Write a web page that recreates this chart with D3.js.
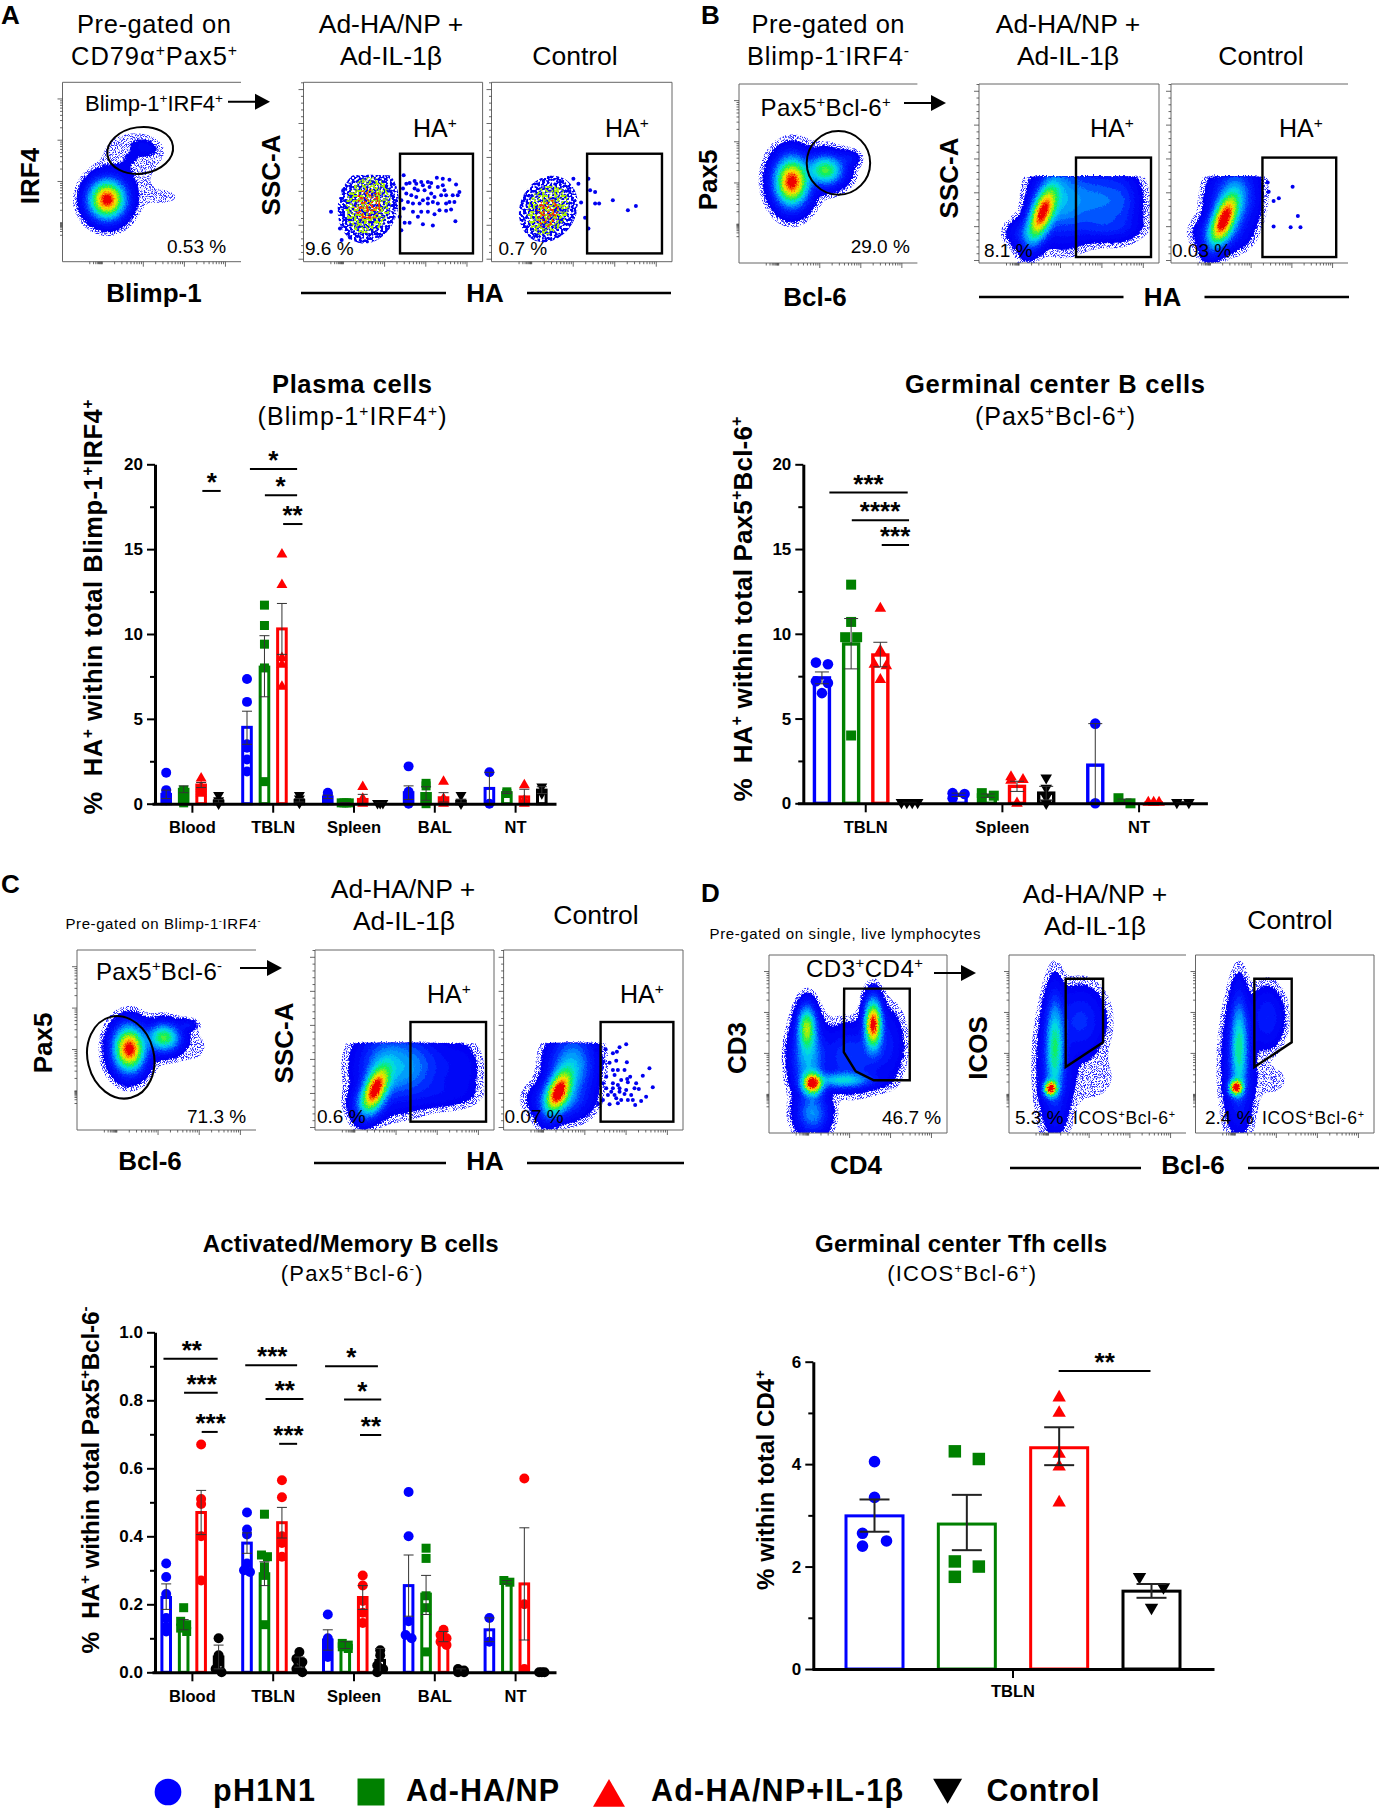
<!DOCTYPE html>
<html>
<head>
<meta charset="utf-8">
<style>
body { margin: 0; background: #fff; font-family: "Liberation Sans", Arial, sans-serif; }
text { fill: #000; }
</style>
</head>
<body>
<script src="https://d3js.org/d3.v7.min.js"></script>
<script>
// ---- bar chart data ----
var seriesNames = ["pH1N1", "Ad-HA/NP", "Ad-HA/NP+IL-1β", "Control"];
var seriesColors = ["#0000ff", "#008000", "#ff0000", "#000000"];

var plasmaGroups = ["Blood", "TBLN", "Spleen", "BAL", "NT"];
var plasmaMeans = [[.55, .85, 1.1, .15], [4.5, 8.05, 10.3, .2], [.4, .05, .25, .02], [.65, .6, .35, .15], [.9, .65, .4, .8]];
var plasmaLow = [[.3, .65, .95, .05], [3.5, 6.3, 8.8, .1], [.3, .03, 0, .01], [.25, .2, .1, .05], [0, .6, 0, .6]];
var plasmaHigh = [[.8, 1.05, 1.25, .25], [5.45, 9.9, 11.8, .3], [.5, .07, .55, .03], [1.05, 1, .65, .25], [1.85, .7, .85, 1]];
var plasmaPoints = [
  [[1.83, .8, .6, .4, .3, .2], [.8, .6, .4, .2, .05], [1.5, 1, .9, .7, .6], [.5, .2, .1, .05, 0]],
  [[7.35, 6, 3.5, 3.3, 2.6, 1.9], [11.7, 10.5, 9.4, 8, 1.3], [14.7, 12.9, 8.6, 8.2, 6.9], [.5, .3, .1, .05]],
  [[.65, .55, .3, .2], [.05, .05, .05, .05], [1, .3, .1, 0], [.03, .03, .03]],
  [[2.2, .7, .5, .1, 0], [1.2, 1.05, .4, .2, 0], [1.3, .3, .2, 0], [.5, .1, 0]],
  [[1.85, 0], [.7, .6], [1.1, .2, 0], [1, .6]]
];
var plasmaBrackets = [[.123, .35, 18.43, .239, "*"], [.712, 1.296, 19.72, 1, "*"], [.897, 1.296, 18.17, 1.09, "*"], [1.123, 1.362, 16.48, 1.239, "**"]];

var gcbGroups = ["TBLN", "Spleen", "NT"];
var gcbMeans = [[7.4, 9.4, 8.75, .05], [.5, .45, 1, .6], [2.25, .15, .02, .02]];
var gcbLow = [[7.05, 7.93, 8.05, .05], [.4, .35, .7, .2], [0, .05, 0, 0]];
var gcbHigh = [[7.75, 10.9, 9.5, .05], [.6, .55, 1.3, 1], [4.7, .25, .04, .04]];
var gcbPoints = [
  [[8.3, 8.2, 7.2, 7.1, 6.5], [12.9, 10.7, 9.8, 9.8, 4], [11.5, 9, 8.2, 8.1, 7.3], [.05, .05, .05, .05]],
  [[.6, .55, .3], [.6, .45, .3], [1.55, 1.4, 1.35, 0], [1.5, .9, .35, 0]],
  [[4.7, 0], [.3, 0], [.05, .05, .05], [.05, .05]]
];
var gcbBrackets = [[-.266, .307, 18.33, .02, "***"], [-.102, .317, 16.7, .105, "****"], [.117, .317, 15.24, .215, "***"]];

var memGroups = ["Blood", "TBLN", "Spleen", "BAL", "NT"];
var memMeans = [[.22, .14, .47, .045], [.38, .29, .44, .03], [.095, .08, .22, .035], [.255, .23, .105, .005], [.125, .265, .26, 0]];
var memLow = [[.185, .125, .405, .01], [.35, .255, .395, .015], [.065, .07, .185, 0], [.165, .17, .09, 0], [.09, .26, .095, 0]];
var memHigh = [[.26, .155, .535, .08], [.41, .325, .485, .045], [.125, .09, .255, .07], [.345, .285, .12, .01], [.16, .27, .425, 0]];
var memPoints = [
  [[.32, .28, .23, .16, .135, .12], [.19, .15, .14, .13, .12], [.67, .51, .495, .4, .27], [.1, .05, .03, .01, 0]],
  [[.47, .42, .405, .32, .3, .295], [.465, .345, .34, .31, .285, .14], [.565, .515, .4, .38, .34], [.06, .04, .03, .01, 0]],
  [[.17, .1, .08, .06, .045], [.085, .08, .075, .07], [.285, .255, .21, .175, .145], [.065, .05, .02, .01, 0]],
  [[.53, .4, .15, .11, .1], [.365, .335, .225, .19, .06], [.125, .11, .1, .09, .08], [.01, .005, 0, 0]],
  [[.16, .09], [.27, .265], [.57, .2, .01], [0, 0, 0]]
];
var memBrackets = [
  [-.358, .313, .922, -.008, "**"], [-.103, .313, .822, .115, "***"], [.115, .313, .707, .226, "***"],
  [.654, 1.296, .903, .988, "***"], [.905, 1.374, .804, 1.144, "**"], [1.074, 1.296, .672, 1.189, "***"],
  [1.642, 2.296, .9, 1.967, "*"], [1.877, 2.337, .802, 2.103, "*"], [2.074, 2.337, .698, 2.21, "**"]
];

var tfhGroups = ["TBLN"];
var tfhMeans = [[2.99, 2.83, 4.32, 1.52]];
var tfhLow = [[2.68, 2.32, 3.98, 1.39]];
var tfhHigh = [[3.31, 3.4, 4.72, 1.66]];
var tfhPoints = [[[4.05, 3.35, 2.65, 2.5, 2.4], [4.25, 4.1, 2.1, 2, 1.8], [5.3, 5, 4.2, 3.95, 3.25], [1.8, 1.6, 1.2]]];
var tfhBrackets = [[.1136, .342, 5.82, .228, "**"]];

// ---- flow plot data, in instrument channels 0-540 ----
// density blobs: x, y, sdX, sdY, tilt, peak
var irf4Blobs = [[135, 187, 31, 33, 0, 1], [250, 345, 20, 12, -15, .03], [225, 330, 60, 40, 0, .0085], [190, 260, 50, 60, 0, .008], [310, 195, 60, 30, 0, .0045]];
var pcHaBlobs = [[195, 170, 40, 52, -15, 1]];
var pcCtlBlobs = [[170, 160, 40, 48, -25, .75], [160, 125, 20, 25, -25, .4]];
var gcbGateBlobs = [[160, 245, 29, 41, 0, 1], [262, 280, 31, 26, 0, .5], [330, 315, 20, 14, 0, .05], [200, 280, 90, 70, 0, .006]];
var gcbHaBlobs = [[190, 150, 20, 52, -20, .95], [250, 190, 45, 62, 0, .22], [360, 190, 55, 52, 0, .16], [430, 180, 28, 50, 0, .06], [380, 110, 55, 22, 0, .06], [140, 90, 30, 25, 0, .08]];
var gcbCtlBlobs = [[161, 130, 20, 48, -22, .95], [190, 190, 38, 58, -8, .22], [150, 90, 40, 28, 0, .1]];
var memGateBlobs = [[158, 243, 27, 38, 0, 1], [262, 277, 28, 24, 0, .5], [333, 315, 16, 10, 0, .05], [170, 250, 60, 60, 0, .007], [350, 250, 50, 50, 0, .005]];
var memHaBlobs = [[182, 122, 20, 42, -22, .95], [223, 190, 50, 58, 0, .25], [371, 190, 58, 50, 0, .05], [450, 180, 25, 45, 0, .02], [380, 110, 60, 25, 0, .03], [300, 190, 40, 55, 0, .1], [160, 80, 30, 28, 0, .12]];
var memCtlBlobs = [[165, 115, 20, 40, -22, .95], [205, 190, 38, 58, -5, .25], [170, 90, 45, 30, 0, .15]];
var cd4GateBlobs = [[132, 150, 18, 20, 0, 1], [115, 320, 16, 38, 0, .55], [316, 330, 15, 42, 0, 1], [224, 160, 50, 14, 0, .3], [119, 230, 28, 60, 0, .25], [132, 60, 28, 35, 0, .2], [250, 230, 50, 50, 0, .12], [355, 270, 30, 60, 0, .06]];
var tfhHaBlobs = [[127, 135, 12, 14, 0, 1], [140, 260, 16, 85, 0, .38], [219, 340, 40, 55, 0, .09], [245, 170, 60, 55, 0, .0075], [140, 200, 30, 110, 0, .07]];
var tfhCtlBlobs = [[123, 138, 12, 14, 0, 1], [132, 260, 15, 85, 0, .36], [217, 350, 28, 50, 0, .08], [230, 160, 40, 35, 0, .0065], [130, 200, 28, 110, 0, .07]];

// single events that can be read one by one
var pcHaEvents = [[302,260],[320,237],[335,243],[355,240],[375,240],[385,237],[402,253],[420,250],[440,247],[460,232],[470,210],[450,200],[425,215],[415,200],[395,195],[375,190],[360,185],[340,195],[325,200],[310,205],[300,220],[315,180],[330,175],[350,175],[375,175],[390,180],[405,175],[430,175],[455,180],[465,200],[302,160],[330,150],[355,150],[375,150],[395,143],[410,155],[430,153],[445,157],[310,235],[345,215],[365,215],[385,205],[405,225],[420,230],[320,117],[305,117],[345,135],[360,113],[390,109],[458,122],[295,95],[290,135],[295,185],[340,235],[360,230],[380,225],[335,220],[430,200],[440,180],[83,150],[110,100],[115,65],[140,73],[120,215]];
var pcCtlEvents = [[290,250],[295,215],[310,210],[310,175],[322,175],[363,185],[408,155],[432,168],[268,178],[280,132],[290,100],[260,235],[245,250]];
var gcbCtlEvents = [[295,243],[298,215],[313,187],[329,195],[371,230],[387,142],[313,110],[365,108],[395,108]];
var memCtlEvents = [[349,248],[369,257],[341,235],[329,230],[307,242],[279,240],[301,205],[319,202],[339,208],[371,203],[439,185],[329,180],[344,180],[364,180],[381,160],[419,163],[372,153],[334,165],[354,150],[309,160],[329,140],[299,140],[344,135],[374,143],[399,140],[394,125],[449,128],[407,123],[309,125],[329,125],[349,125],[369,120],[384,105],[314,105],[339,95],[354,90],[374,90],[429,100],[414,87],[389,90],[396,75],[319,77],[299,90],[344,80],[284,78],[349,115],[324,115],[364,108],[334,105]];

// gates
var irf4Gate = [235, 335, 100, 70, 8];
var gcbGate = [301, 302, 96, 96, 0];
var memGate = [132, 218, 100, 125, 14];
var cd4Gate = [[228,438],[427,438],[427,160],[318,160],[263,187],[227,245]];
var tfhHaGate = [[173,468],[287,468],[287,275],[173,200]];
var tfhCtlGate = [[178,468],[291,468],[291,275],[178,200]];

var width = 1379, height = 1808;
var svg = d3.select("body").append("svg").attr("width", width).attr("height", height);

var defs = svg.append("defs");
var rf = defs.append("filter").attr("id", "rough").attr("x", "-10%").attr("y", "-10%").attr("width", "120%").attr("height", "120%")
    .attr("color-interpolation-filters", "sRGB");
rf.append("feTurbulence").attr("type", "fractalNoise").attr("baseFrequency", .7).attr("numOctaves", 2).attr("seed", 4).attr("result", "n");
rf.append("feDisplacementMap").attr("in", "SourceGraphic").attr("in2", "n").attr("scale", 5)
    .attr("xChannelSelector", "R").attr("yChannelSelector", "G");

function speckleFilter(id, freq, seed, offset) {
  var sp = defs.append("filter").attr("id", id).attr("x", "0").attr("y", "0").attr("width", "100%").attr("height", "100%")
      .attr("color-interpolation-filters", "sRGB");
  sp.append("feTurbulence").attr("type", "fractalNoise").attr("baseFrequency", freq).attr("numOctaves", 1).attr("seed", seed).attr("result", "n");
  sp.append("feColorMatrix").attr("in", "n").attr("type", "matrix").attr("values", "0 0 0 0 0 0 0 0 0 0 0 0 0 0 0 9 0 0 0 " + offset).attr("result", "m");
  sp.append("feComposite").attr("in", "SourceGraphic").attr("in2", "m").attr("operator", "in");
}
speckleFilter("speckle", 1.1, 9, -4.4);
speckleFilter("dotsBlue", .42, 3, -3.7);
speckleFilter("dotsLime", .42, 11, -4.2);
speckleFilter("dotsRed", .42, 23, -4.6);

// text with ^x superscripts
function label(str, x, y, o) {
  o = o || {};
  var size = o.size || 25;
  var t = svg.append("text")
      .attr("transform", "translate(" + x + "," + y + ")" + (o.rotate ? " rotate(-90)" : ""))
      .attr("text-anchor", o.anchor || "start")
      .attr("font-size", size)
      .attr("font-weight", o.bold ? "bold" : "normal");
  if (o.len) t.attr("textLength", o.len).attr("lengthAdjust", "spacing");
  var parts = str.split(/\^(.)/);
  var raised = false;
  parts.forEach(function(p, i) {
    if (p === "") return;
    var sup = i % 2 == 1;
    var ts = t.append("tspan").text(p);
    if (sup) {
      ts.attr("font-size", size * .62).attr("dy", -size * .36);
      raised = true;
    } else if (raised) {
      ts.attr("dy", size * .36);
      raised = false;
    }
  });
  return t;
}

var densityColor = d3.scaleLinear()
    .domain([.012, .07, .16, .28, .42, .58, .7, .82, .92])
    .range(["#0000f5", "#0020ff", "#0080ff", "#00d8f0", "#10f060", "#b0f000", "#ffe000", "#ff7000", "#f00000"]);
var denseLevels = [.012, .025, .05, .08, .12, .16, .2, .25, .3, .36, .42, .48, .55, .62, .68, .74, .8, .86, .92];
var sparseLevels = [.08, .25, .6];
var sparseColors = ["#0000f0", "#a8f000", "#f83000"];
var sparseFilters = ["url(#dotsBlue)", "url(#dotsLime)", "url(#dotsRed)"];

var paneCount = 0;
function flowPane(box, o) {
  var x0 = box[0], y0 = box[1], x1 = box[2], y1 = box[3];
  var sx = d3.scaleLinear().domain([0, 540]).range([x0, x1]);
  var sy = d3.scaleLinear().domain([0, 540]).range([y1, y0]);
  var id = "pane" + (paneCount++);
  defs.append("clipPath").attr("id", id).append("rect").attr("x", x0).attr("y", y0).attr("width", x1 - x0).attr("height", y1 - y0);
  var g = svg.append("g").attr("clip-path", "url(#" + id + ")");

  // density field from the blobs
  var n = 180, cell = 3, values = new Float64Array(n * n);
  for (var j = 0; j < n; j++) for (var i = 0; i < n; i++) {
    var cx = (i + .5) * cell, cy = (j + .5) * cell, v = 0;
    if (o.cap && cy > o.cap) { values[j * n + i] = 0; continue; }
    o.blobs.forEach(function(b) {
      var a = b[4] * Math.PI / 180, dx = cx - b[0], dy = cy - b[1];
      var u = dx * Math.cos(a) + dy * Math.sin(a), w = -dx * Math.sin(a) + dy * Math.cos(a);
      v += b[5] * Math.exp(-.5 * (u * u / (b[2] * b[2]) + w * w / (b[3] * b[3])));
    });
    values[j * n + i] = v;
  }
  var path = d3.geoPath(d3.geoTransform({ point: function(a, b) { this.stream.point(sx(a * cell), sy(b * cell)); } }));
  var contours = d3.contours().size([n, n]);
  if (o.sparse) {
    // few events: each colour band shows as loose dots
    contours.thresholds(sparseLevels)(values).forEach(function(c, k) {
      g.append("path").attr("d", path(c)).attr("fill", sparseColors[k]).attr("filter", sparseFilters[k]);
    });
  } else {
    g.append("path").attr("d", path(contours.thresholds([.004])(values)[0])).attr("fill", "#2a2aff").attr("filter", "url(#speckle)");
    var core = g.append("g").attr("filter", "url(#rough)");
    core.selectAll("path").data(contours.thresholds(denseLevels)(values)).join("path")
        .attr("d", path)
        .attr("fill", function(d) { return densityColor(d.value); });
  }
  if (o.events) {
    g.selectAll("circle.ev").data(o.events).join("circle").attr("class", "ev")
        .attr("cx", function(d) { return sx(d[0]); }).attr("cy", function(d) { return sy(d[1]); })
        .attr("r", 2).attr("fill", "#0000f0");
  }

  // frame
  var frame = svg.append("g").attr("stroke", "#666").attr("stroke-width", 1).attr("fill", "none");
  frame.append("line").attr("x1", x0).attr("x2", x1).attr("y1", y0).attr("y2", y0);
  frame.append("line").attr("x1", x0).attr("x2", x0).attr("y1", y0).attr("y2", y1);
  frame.append("line").attr("x1", x0).attr("x2", x1).attr("y1", y1).attr("y2", y1);
  if (!o.noRight) frame.append("line").attr("x1", x1).attr("x2", x1).attr("y1", y0).attr("y2", y1);

  // axes: log on x, log or linear on y
  var logTicks = [];
  [10, 100, 1000, 10000].forEach(function(d) { d3.range(1, 10).forEach(function(m) { logTicks.push(d * m); }); });
  var logMajor = [1000, 10000, 100000];
  var logX = d3.scaleLog().domain([10, 100, 1e3, 1e4, 1e5, 2.6e5]).range([.15, .22, .45, .68, .91, 1].map(function(f) { return x0 + f * (x1 - x0); }));
  drawFlowAxis(d3.axisBottom(logX), "translate(0," + y1 + ")", logTicks, logMajor);
  if (o.linearY) {
    var linY = d3.scaleLinear().domain([0, 260]).range([y1 - 3, y0]);
    drawFlowAxis(d3.axisLeft(linY), "translate(" + x0 + ",0)", d3.range(0, 261, 10), d3.range(0, 261, 50));
  } else {
    var logY = d3.scaleLog().domain([10, 100, 1e3, 1e4, 1e5, 2.6e5]).range([.15, .22, .45, .68, .91, 1].map(function(f) { return y1 - f * (y1 - y0); }));
    drawFlowAxis(d3.axisLeft(logY), "translate(" + x0 + ",0)", logTicks, logMajor);
  }

  // gates
  var gate = svg.append("g").attr("fill", "none").attr("stroke", "#000");
  if (o.rect) {
    gate.append("rect").attr("x", sx(o.rect[0])).attr("y", sy(o.rect[3]))
        .attr("width", sx(o.rect[1]) - sx(o.rect[0])).attr("height", sy(o.rect[2]) - sy(o.rect[3])).attr("stroke-width", 2.4);
  }
  if (o.ellipse) {
    var e = o.ellipse;
    gate.append("ellipse").attr("cx", sx(e[0])).attr("cy", sy(e[1]))
        .attr("rx", sx(e[2]) - sx(0)).attr("ry", sy(0) - sy(e[3]))
        .attr("transform", "rotate(" + (-e[4]) + " " + sx(e[0]) + " " + sy(e[1]) + ")").attr("stroke-width", 2);
  }
  if (o.poly) {
    gate.append("path").attr("d", d3.line().x(function(d) { return sx(d[0]); }).y(function(d) { return sy(d[1]); }).curve(d3.curveLinearClosed)(o.poly)).attr("stroke-width", 2.4);
  }
}

function drawFlowAxis(axis, tr, all, major) {
  var minor = all.filter(function(v) { return major.indexOf(v) < 0; });
  [[minor, 2.5], [major, 5]].forEach(function(s) {
    var a = svg.append("g").attr("transform", tr).call(axis.tickValues(s[0]).tickSize(s[1]).tickSizeOuter(0).tickFormat(""));
    a.select(".domain").remove();
    a.selectAll("text").remove();
    a.selectAll("line").attr("stroke", "#444").attr("stroke-width", .8);
  });
}

function arrow(x0, x1, y) {
  var g = svg.append("g");
  g.append("line").attr("x1", x0).attr("x2", x1 - 8).attr("y1", y).attr("y2", y).attr("stroke", "#000").attr("stroke-width", 2);
  g.append("path").attr("d", "M" + x1 + "," + y + "L" + (x1 - 15) + "," + (y - 8) + "L" + (x1 - 15) + "," + (y + 8) + "Z").attr("fill", "#000");
}
function haBar(x0, x1, x2, x3, y) {
  svg.append("line").attr("x1", x0).attr("x2", x1).attr("y1", y).attr("y2", y).attr("stroke", "#000").attr("stroke-width", 2.4);
  svg.append("line").attr("x1", x2).attr("x2", x3).attr("y1", y).attr("y2", y).attr("stroke", "#000").attr("stroke-width", 2.4);
}

var headSize = 26.5;

// ---- panel A ----
label("A", 1, 24, { size: 26, bold: true });
label("Pre-gated on", 154, 33, { anchor: "middle", size: 25.5, len: 154 });
label("CD79α^+Pax5^+", 154, 65, { anchor: "middle", size: 25.5, len: 166 });
label("Ad-HA/NP +", 391, 33, { anchor: "middle", size: headSize });
label("Ad-IL-1β", 391, 65, { anchor: "middle", size: headSize });
label("Control", 575, 65, { anchor: "middle", size: headSize });
flowPane([62.5, 82.3, 241, 261.7], { blobs: irf4Blobs, ellipse: irf4Gate, noRight: true });
flowPane([303.5, 82.3, 482.6, 261.7], { blobs: pcHaBlobs, sparse: true, cap: 260, linearY: true, events: pcHaEvents, rect: [291, 511, 25, 325] });
flowPane([491.5, 82.3, 672, 261.7], { blobs: pcCtlBlobs, sparse: true, cap: 260, linearY: true, events: pcCtlEvents, rect: [286, 510, 25, 325] });
label("Blimp-1^+IRF4^+", 85, 111, { size: 22, len: 138 });
arrow(228, 270, 101.7);
label("0.53 %", 167, 252.7, { size: 19 });
label("HA^+", 413, 137, { size: 25 });
label("HA^+", 605, 137, { size: 25 });
label("9.6 %", 305, 255, { size: 19 });
label("0.7 %", 498.6, 255, { size: 19 });
label("Blimp-1", 154, 302, { anchor: "middle", bold: true, size: 26 });
label("IRF4", 39, 176, { anchor: "middle", bold: true, size: 26, rotate: true });
label("SSC-A", 280, 175, { anchor: "middle", bold: true, size: 26, rotate: true });
label("HA", 485, 302, { anchor: "middle", bold: true, size: 26 });
haBar(301, 446, 527, 671, 293);

// ---- panel B ----
label("B", 701, 24, { size: 26, bold: true });
label("Pre-gated on", 828, 33, { anchor: "middle", size: 25.5, len: 153 });
label("Blimp-1^-IRF4^-", 828, 65, { anchor: "middle", size: 25.5, len: 162 });
label("Ad-HA/NP +", 1068, 33, { anchor: "middle", size: headSize });
label("Ad-IL-1β", 1068, 65, { anchor: "middle", size: headSize });
label("Control", 1261, 65, { anchor: "middle", size: headSize });
flowPane([739, 84, 917.4, 263], { blobs: gcbGateBlobs, ellipse: gcbGate, noRight: true });
flowPane([979, 84, 1159, 263], { blobs: gcbHaBlobs, cap: 260, linearY: true, rect: [291, 516, 18, 318] });
flowPane([1171, 84, 1348, 263], { blobs: gcbCtlBlobs, cap: 260, linearY: true, events: gcbCtlEvents, rect: [279, 504, 18, 318], noRight: true });
label("Pax5^+Bcl-6^+", 760.6, 116, { size: 24, len: 130 });
arrow(904, 946, 103);
label("29.0 %", 850.7, 252.7, { size: 19 });
label("HA^+", 1090, 137, { size: 25 });
label("HA^+", 1279, 137, { size: 25 });
label("8.1 %", 984, 257, { size: 19 });
label("0.03 %", 1172, 257, { size: 19 });
label("Bcl-6", 815, 306, { anchor: "middle", bold: true, size: 26 });
label("Pax5", 716.5, 180, { anchor: "middle", bold: true, size: 26, rotate: true });
label("SSC-A", 958, 178, { anchor: "middle", bold: true, size: 26, rotate: true });
label("HA", 1162.5, 306, { anchor: "middle", bold: true, size: 26 });
haBar(979, 1123.5, 1204.5, 1349, 297);

// ---- panel C ----
label("C", 1, 893, { size: 26, bold: true });
label("Pre-gated on Blimp-1^-IRF4^-", 163, 929, { anchor: "middle", size: 15, len: 195 });
label("Ad-HA/NP +", 403, 898, { anchor: "middle", size: headSize });
label("Ad-IL-1β", 404, 930, { anchor: "middle", size: headSize });
label("Control", 596, 924, { anchor: "middle", size: headSize });
flowPane([77, 950, 256, 1130], { blobs: memGateBlobs, ellipse: memGate, noRight: true });
flowPane([315, 950, 494, 1130], { blobs: memHaBlobs, cap: 260, linearY: true, rect: [288, 516, 25, 324] });
flowPane([503.6, 950, 683, 1130], { blobs: memCtlBlobs, cap: 260, linearY: true, events: memCtlEvents, rect: [292, 511, 25, 324] });
label("Pax5^+Bcl-6^-", 96, 980, { size: 24, len: 126 });
arrow(240, 282, 968);
label("71.3 %", 187, 1123, { size: 19 });
label("HA^+", 427, 1003, { size: 25 });
label("HA^+", 620, 1003, { size: 25 });
label("0.6 %", 317, 1123, { size: 19 });
label("0.07 %", 504.5, 1123, { size: 19 });
label("Bcl-6", 150, 1170, { anchor: "middle", bold: true, size: 26 });
label("Pax5", 52, 1043, { anchor: "middle", bold: true, size: 26, rotate: true });
label("SSC-A", 293, 1043, { anchor: "middle", bold: true, size: 26, rotate: true });
label("HA", 485, 1170, { anchor: "middle", bold: true, size: 26 });
haBar(314, 446, 527, 684, 1163);

// ---- panel D ----
label("D", 701, 902, { size: 26, bold: true });
label("Pre-gated on single, live lymphocytes", 845, 939, { anchor: "middle", size: 15, len: 271 });
label("Ad-HA/NP +", 1095, 903, { anchor: "middle", size: headSize });
label("Ad-IL-1β", 1095, 935, { anchor: "middle", size: headSize });
label("Control", 1290, 929, { anchor: "middle", size: headSize });
flowPane([769, 955, 947, 1133], { blobs: cd4GateBlobs, poly: cd4Gate });
flowPane([1009, 955, 1186, 1133], { blobs: tfhHaBlobs, poly: tfhHaGate, noRight: true });
flowPane([1195.5, 955, 1374, 1133], { blobs: tfhCtlBlobs, poly: tfhCtlGate });
label("CD3^+CD4^+", 806, 977, { size: 24, len: 117 });
arrow(934, 976, 973);
label("46.7 %", 882, 1124, { size: 19 });
label("5.3 %", 1015, 1124, { size: 19 });
label("ICOS^+Bcl-6^+", 1073, 1124, { size: 17.5, len: 102 });
label("2.4 %", 1205, 1124, { size: 19 });
label("ICOS^+Bcl-6^+", 1262, 1124, { size: 17.5, len: 102 });
label("CD4", 856, 1174, { anchor: "middle", bold: true, size: 26 });
label("CD3", 745.5, 1048, { anchor: "middle", bold: true, size: 26, rotate: true });
label("ICOS", 987, 1048, { anchor: "middle", bold: true, size: 26, rotate: true });
label("Bcl-6", 1193, 1174, { anchor: "middle", bold: true, size: 26 });
haBar(1010, 1141, 1248, 1379, 1168);

// ---- bar charts ----
function barChart(o) {
  var g = svg.append("g");
  var y = d3.scaleLinear().domain([0, o.yMax]).range([o.y0, o.y1]);
  var x = d3.scaleBand().domain(o.groups).range(o.xRange);
  var inner = d3.scalePoint().domain(seriesNames).range([-o.offset, o.offset]);
  var ux = d3.scaleLinear().domain([0, 1]).range([x(o.groups[0]) + x.bandwidth() / 2, x(o.groups[0]) + x.bandwidth() / 2 + x.step()]);
  var symbols = o.symbols || [d3.symbolCircle, d3.symbolSquare, d3.symbolTriangle, d3.symbolTriangle];
  var sizes = o.sizes;

  o.groups.forEach(function(group, gi) {
    var cx = x(group) + x.bandwidth() / 2;
    seriesNames.forEach(function(name, si) {
      var bx = cx + inner(name);
      var col = seriesColors[si];
      g.append("rect")
          .attr("x", bx - o.barW / 2).attr("width", o.barW)
          .attr("y", y(o.means[gi][si])).attr("height", y(0) - y(o.means[gi][si]))
          .attr("fill", "#fff").attr("stroke", col).attr("stroke-width", o.barStroke);

      // points: close values sit side by side
      var vals = o.points[gi][si].slice().sort(d3.descending);
      var pts = g.append("g");
      var slots = [], run = [];
      vals.forEach(function(v, i) {
        if (i > 0 && vals[i - 1] - v > o.tol) { slots.push(run); run = []; }
        run.push(v);
      });
      slots.push(run);
      var sym = symbols[si];
      var down = si == 3 && sym === d3.symbolTriangle;
      slots.forEach(function(r) {
        var same = r.length > 2 && r[0] == r[r.length - 1];
        r.forEach(function(v, i) {
          var off = r.length == 1 ? 0 : (i % 2 == 0 ? -o.step / 2 : o.step / 2);
          if (same) off = (i - (r.length - 1) / 2) * o.step * .45;
          pts.append("path").attr("d", d3.symbol().type(sym).size(sizes[si])())
              .attr("transform", "translate(" + (bx + off) + "," + y(v) + ")" + (down ? " rotate(180)" : ""))
              .attr("fill", col);
        });
      });
    });
  });

  // error bars on top of the points
  o.groups.forEach(function(group, gi) {
    var cx = x(group) + x.bandwidth() / 2;
    seriesNames.forEach(function(name, si) {
      var bx = cx + inner(name), lo = y(o.low[gi][si]), hi = y(o.high[gi][si]);
      var er = g.append("g").attr("stroke", o.errColor).attr("stroke-width", o.errW).attr("fill", "none");
      er.append("line").attr("x1", bx).attr("x2", bx).attr("y1", lo).attr("y2", hi);
      er.append("line").attr("x1", bx - o.cap).attr("x2", bx + o.cap).attr("y1", hi).attr("y2", hi);
      er.append("line").attr("x1", bx - o.cap).attr("x2", bx + o.cap).attr("y1", lo).attr("y2", lo);
    });
  });

  // axes
  var yg = svg.append("g").attr("transform", "translate(" + o.xAxis + ",0)")
      .call(d3.axisLeft(y).tickValues(o.major).tickSize(o.tick).tickSizeOuter(0).tickPadding(4).tickFormat(o.fmt));
  yg.select(".domain").attr("stroke-width", 3);
  yg.selectAll("line").attr("stroke-width", 2);
  yg.selectAll("text").attr("font-size", 17).attr("font-weight", "bold").attr("font-family", "Liberation Sans, Arial, sans-serif");
  var yMinor = svg.append("g").attr("transform", "translate(" + o.xAxis + ",0)")
      .call(d3.axisLeft(y).tickValues(o.minor).tickSize(5).tickSizeOuter(0).tickFormat(""));
  yMinor.select(".domain").remove();
  yMinor.selectAll("text").remove();
  yMinor.selectAll("line").attr("stroke-width", 2);

  var xg = svg.append("g").attr("transform", "translate(0," + o.y0 + ")")
      .call(d3.axisBottom(x).tickSize(9).tickSizeOuter(0).tickPadding(o.xPad));
  xg.select(".domain").attr("stroke-width", 3);
  xg.selectAll("line").attr("stroke-width", 2);
  xg.selectAll("text").attr("font-size", 16.5).attr("font-weight", "bold").attr("font-family", "Liberation Sans, Arial, sans-serif");

  // significance brackets
  o.brackets.forEach(function(b) {
    g.append("line").attr("x1", ux(b[0])).attr("x2", ux(b[1])).attr("y1", y(b[2])).attr("y2", y(b[2]))
        .attr("stroke", "#000").attr("stroke-width", 2);
    g.append("text").attr("x", ux(b[3])).attr("y", y(b[2])).attr("text-anchor", "middle")
        .attr("font-size", 26).attr("font-weight", "bold").text(b[4]);
  });
}

barChart({
  groups: plasmaGroups, means: plasmaMeans, low: plasmaLow, high: plasmaHigh, points: plasmaPoints, brackets: plasmaBrackets,
  yMax: 20, y0: 803.7, y1: 464.3, xRange: [152, 556], xAxis: 155, offset: 26.2, barW: 8.6, barStroke: 3,
  major: [0, 5, 10, 15, 20], minor: [2.5, 7.5, 12.5, 17.5], tick: 8, fmt: d3.format("d"), xPad: 8.5,
  tol: .02, step: 6, sizes: [78, 81, 52, 52], cap: 5, errColor: "#333", errW: 1, symbols: null
});
label("Plasma cells", 352, 393, { anchor: "middle", bold: true, size: 25.5, len: 160 });
label("(Blimp-1^+IRF4^+)", 352, 425, { anchor: "middle", size: 25, len: 189 });
label("%\u00a0\u00a0HA^+ within total Blimp-1^+IRF4^+", 101.7, 607, { anchor: "middle", bold: true, size: 25.5, rotate: true, len: 415 });

barChart({
  groups: gcbGroups, means: gcbMeans, low: gcbLow, high: gcbHigh, points: gcbPoints, brackets: gcbBrackets,
  yMax: 20, y0: 803.3, y1: 464.3, xRange: [797.4, 1207.4], xAxis: 803.3, offset: 43.8, barW: 15, barStroke: 3.4,
  major: [0, 5, 10, 15, 20], minor: [2.5, 7.5, 12.5, 17.5], tick: 8, fmt: d3.format("d"), xPad: 8.5,
  tol: .31, step: 12, sizes: [88, 100, 58, 58], cap: 7, errColor: "#333", errW: 1, symbols: null
});
label("Germinal center B cells", 1055, 393, { anchor: "middle", bold: true, size: 25.5, len: 300 });
label("(Pax5^+Bcl-6^+)", 1055, 425, { anchor: "middle", size: 25, len: 160 });
label("%\u00a0\u00a0HA^+ within total Pax5^+Bcl-6^+", 751.7, 609, { anchor: "middle", bold: true, size: 26, rotate: true, len: 385 });

barChart({
  groups: memGroups, means: memMeans, low: memLow, high: memHigh, points: memPoints, brackets: memBrackets,
  yMax: 1, y0: 1672.3, y1: 1332.3, xRange: [152, 556], xAxis: 155, offset: 26.2, barW: 8.6, barStroke: 3,
  major: [0, .2, .4, .6, .8, 1], minor: [.1, .3, .5, .7, .9], tick: 8, fmt: d3.format(".1f"), xPad: 8.5,
  tol: .012, step: 6, sizes: [78, 81, 78, 78], cap: 5, errColor: "#333", errW: 1,
  symbols: [d3.symbolCircle, d3.symbolSquare, d3.symbolCircle, d3.symbolCircle]
});
label("Activated/Memory B cells", 350.7, 1252, { anchor: "middle", bold: true, size: 24, len: 296 });
label("(Pax5^+Bcl-6^-)", 351.7, 1281, { anchor: "middle", size: 22, len: 142 });
label("%\u00a0\u00a0HA^+ within total Pax5^+Bcl-6^-", 99, 1480, { anchor: "middle", bold: true, size: 24.4, rotate: true, len: 347 });

barChart({
  groups: tfhGroups, means: tfhMeans, low: tfhLow, high: tfhHigh, points: tfhPoints, brackets: tfhBrackets,
  yMax: 6, y0: 1669, y1: 1361.7, xRange: [812, 1214], xAxis: 813.3, offset: 138.5, barW: 57, barStroke: 3,
  major: [0, 2, 4, 6], minor: [1, 3, 5], tick: 8, fmt: d3.format("d"), xPad: 7,
  tol: .21, step: 24, sizes: [106, 156, 78, 78], cap: 15, errColor: "#222", errW: 2, symbols: null
});
label("Germinal center Tfh cells", 961, 1252, { anchor: "middle", bold: true, size: 24, len: 292 });
label("(ICOS^+Bcl-6^+)", 961.7, 1281, { anchor: "middle", size: 22, len: 149 });
label("% within total CD4^+", 774, 1480, { anchor: "middle", bold: true, size: 24, rotate: true, len: 220 });

// ---- legend ----
var legendSymbols = [d3.symbolCircle, d3.symbolSquare, d3.symbolTriangle, d3.symbolTriangle];
var legendSizes = [560, 729, 443, 364];
var legendSymX = d3.scaleOrdinal().domain(seriesNames).range([168, 371, 609, 947.6]);
var legendTextX = d3.scaleOrdinal().domain(seriesNames).range([213, 406, 651, 986.5]);
var legendSymY = d3.scaleOrdinal().domain(seriesNames).range([1792, 1792, 1797.5, 1787]);
var legendWidths = [102, 153, 252, 113];
seriesNames.forEach(function(name, i) {
  svg.append("path").attr("d", d3.symbol().type(legendSymbols[i]).size(legendSizes[i])())
      .attr("transform", "translate(" + legendSymX(name) + "," + legendSymY(name) + ")" + (i == 3 ? " rotate(180)" : ""))
      .attr("fill", seriesColors[i]);
  label(name, legendTextX(name), 1801, { size: 30.5, bold: true, len: legendWidths[i] });
});
</script>
</body>
</html>
